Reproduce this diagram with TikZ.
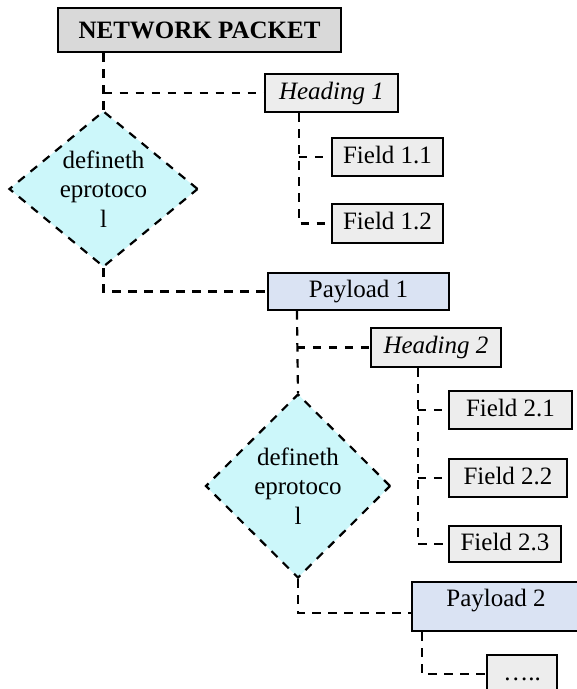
\documentclass[tikz,border=0pt]{standalone}
\usepackage{fontspec}
\setmainfont{Liberation Serif}
\usetikzlibrary{shapes.geometric}
\definecolor{npgray}{RGB}{217,217,217}
\definecolor{boxgray}{RGB}{237,237,237}
\definecolor{payblue}{RGB}{218,227,243}
\definecolor{protocyan}{RGB}{204,247,250}
\begin{document}
\begin{tikzpicture}[x=1pt,y=-1pt,
  every node/.style={font=\fontsize{25pt}{29.5pt}\selectfont},
  box/.style={draw, line width=2.2pt, fill=boxgray, rectangle,
    inner xsep=0pt, inner ysep=0pt, text height=17pt, text depth=5pt,
    minimum height=38pt},
  titlebox/.style={box, fill=npgray, font=\fontsize{25pt}{29.5pt}\selectfont\bfseries,
    text height=16.4pt, text depth=0pt, minimum height=44pt},
  headbox/.style={box, font=\fontsize{25pt}{29.5pt}\selectfont\itshape},
  paybox/.style={box, fill=payblue},
  protocol/.style={diamond, draw, line width=2.2pt, fill=protocyan,
    dash pattern=on 8.5pt off 7.5pt, inner sep=0pt, align=center},
  conn/.style={line width=2.2pt, dash pattern=on 8.5pt off 7.5pt}
]
\useasboundingbox (0,0) rectangle (577,689);

% boxes
\node[titlebox, minimum width=283pt] (np) at (199.5,30) {NETWORK PACKET};
\node[headbox, minimum width=133pt] (h1) at (331.5,93) {Heading 1};
\node[box, minimum width=111pt] (f11) at (387.5,157) {Field 1.1};
\node[box, minimum width=111pt, minimum height=39pt] (f12) at (387.5,223.5) {Field 1.2};
\node[protocol, aspect=1.21, minimum width=189pt, minimum height=156pt] (d1) at (103.5,189)
  {defineth\\eprotoco\\l};
\node[paybox, minimum width=181pt, minimum height=37pt] (p1) at (358.5,291.5) {Payload 1};
\node[headbox, minimum width=130pt, minimum height=39pt] (h2) at (436,347.5) {Heading 2};
\node[box, minimum width=123pt] (f21) at (510.5,410) {Field 2.1};
\node[box, minimum width=118pt] (f22) at (508,478) {Field 2.2};
\node[box, minimum width=112pt, minimum height=36pt] (f23) at (505,544) {Field 2.3};
\node[protocol, aspect=1, minimum width=185pt, minimum height=184pt] (d2) at (298,486)
  {defineth\\eprotoco\\l};
\node[paybox, minimum width=168pt, text depth=18pt, inner ysep=7pt] (p2) at (496,606.5) {Payload 2};
\node[box, minimum width=70pt] (dots) at (522,674) {…..};

% branch points on the lower edges of the boxes
\coordinate (h1x) at ([xshift=35pt]h1.south west);
\coordinate (p1x) at ([xshift=30pt]p1.south west);
\coordinate (h2x) at ([xshift=48pt]h2.south west);
\coordinate (p2x) at ([xshift=11pt]p2.south west);

% connectors
\draw[conn] (np.south -| d1.north) -- (d1.north);
\draw[conn] (d1.north |- h1.west) -- (h1.west);
\draw[conn] (h1x) |- (f12.west);
\draw[conn] (h1x |- f11.west) -- (f11.west);
\draw[conn] (d1.south) |- (p1.west);
\draw[conn] (p1x) -- (d2.north);
\draw[conn] (p1x |- h2.west) -- (h2.west);
\draw[conn] (h2x) |- (f23.west);
\draw[conn] (h2x |- f21.west) -- (f21.west);
\draw[conn] (h2x |- f22.west) -- (f22.west);
\draw[conn] (d2.south) |- ([yshift=-6.5pt]p2.west);
\draw[conn] (p2x) |- (dots.west);
\end{tikzpicture}
\end{document}
